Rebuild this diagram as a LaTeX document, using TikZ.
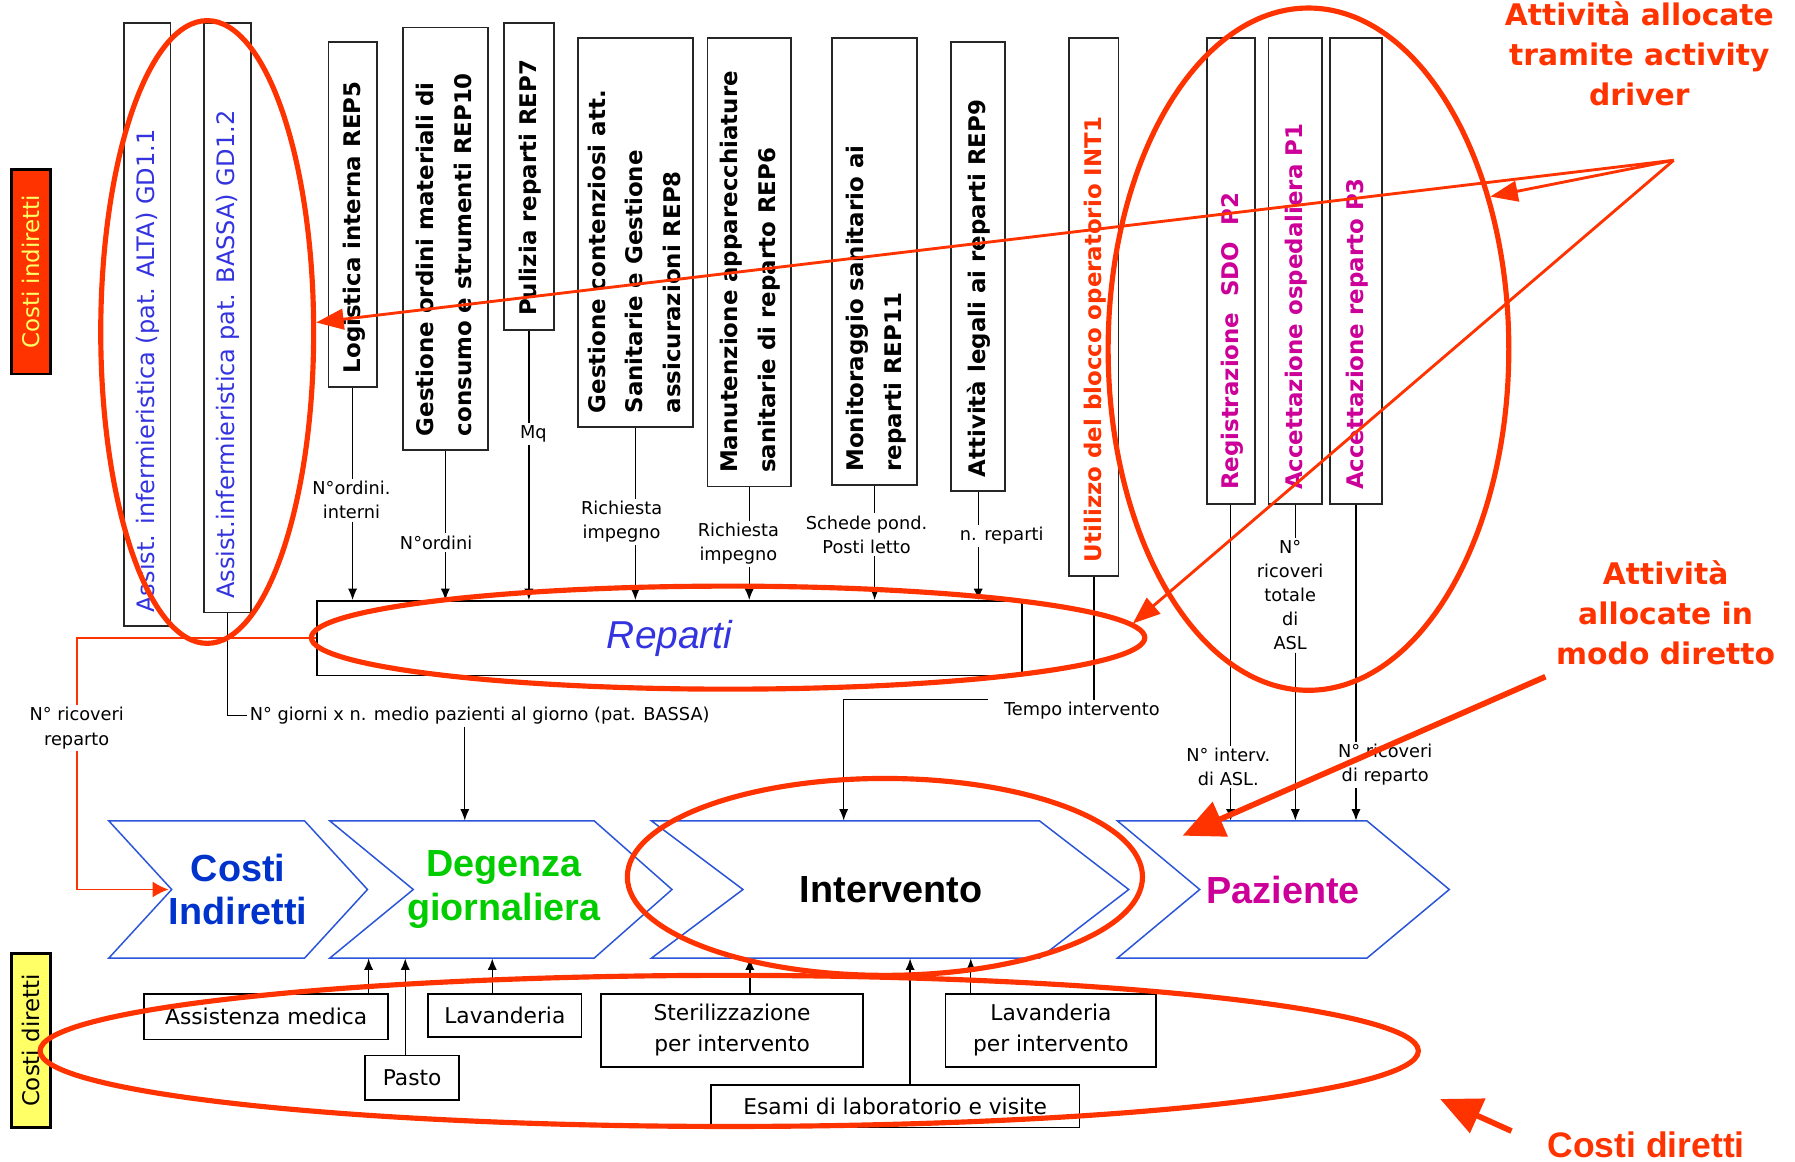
\documentclass[tikz,border=0pt]{standalone}
\usepackage{fontspec}
\usepackage{graphicx}
\usepackage{tikz}
\usetikzlibrary{arrows.meta,shapes.geometric}
\setmainfont{DejaVu Sans}
\newfontfamily\libsans{Liberation Sans}
\definecolor{rosso}{HTML}{FF3300}
\definecolor{blu}{HTML}{0033CC}
\definecolor{bluchiaro}{HTML}{3333E0}
\definecolor{bordo}{HTML}{2A55D8}
\definecolor{verde}{HTML}{00CC00}
\definecolor{viola}{HTML}{CC0099}
\definecolor{giallo}{HTML}{FFFF66}

\newcommand\vtesto[2]{\rotatebox{90}{\makebox[#1pt][l]{\begin{tabular}{@{}l@{}}#2\end{tabular}}}}

\tikzset{
  tag/.style={draw=black, line width=2pt, minimum width=34pt, inner sep=0pt, font=\fontsize{20}{24}\selectfont},
  vbox/.style={draw=black!85, line width=1.6pt, inner sep=0pt, font=\fontsize{20}{33}\selectfont\bfseries},
  lab/.style={font=\fontsize{15.5}{21}\selectfont, align=center, inner sep=2pt},
  conn/.style={line width=1.2pt},
  arr/.style={line width=1.2pt, -{Latex[length=10pt,width=8pt]}},
  chev/.style={draw=bordo, line width=1.3pt},
  chevtxt/.style={minimum height=120pt, inner sep=0pt, align=center, font=\libsans\bfseries\fontsize{33}{38}\selectfont},
  costbox/.style={draw, line width=1.5pt, inner sep=0pt, align=center, font=\fontsize{19}{27}\selectfont},
  redel/.style={draw=rosso, line width=4.5pt, ellipse, inner sep=0pt},
  redarr/.style={draw=rosso, line width=2.5pt, -{Triangle[length=24pt,width=18pt]}},
  bigarr/.style={draw=rosso, line width=5pt, -{Triangle[length=36pt,width=32pt]}},
  annot/.style={text=rosso, align=center, font=\fontsize{26}{35}\selectfont\bfseries},
}

\begin{document}
\begin{tikzpicture}[x=1pt,y=-1pt]
  \useasboundingbox (0,0) rectangle (1568,1015);

  \node[tag, fill=rosso, text=giallo, minimum height=179pt] (cind) at (27,237.5) {\rotatebox{90}{Costi indiretti}};
  \node[tag, fill=giallo, minimum height=152pt] (cdir) at (27,909) {\rotatebox{90}{Costi diretti}};

  \node[vbox, minimum width=41pt, minimum height=527pt, text=bluchiaro, font=\fontsize{21}{33}\selectfont] (gd11) at (128.5,283.5) {\vtesto{503}{Assist. infermieristica (pat. ALTA) GD1.1}};
  \node[vbox, minimum width=41pt, minimum height=515pt, text=bluchiaro, font=\fontsize{21}{33}\selectfont] (gd12) at (198.5,277.5) {\vtesto{491}{Assist.infermieristica pat. BASSA) GD1.2}};
  \node[vbox, minimum width=42pt, minimum height=301pt] (rep5) at (308,187.5) {\vtesto{277}{Logistica interna REP5}};
  \node[vbox, minimum width=74pt, minimum height=369pt] (rep10) at (389,208.5) {\vtesto{345}{Gestione ordini materiali di\\consumo e strumenti REP10}};
  \node[vbox, minimum width=44pt, minimum height=268pt] (rep7) at (462,154) {\vtesto{244}{Pulizia reparti REP7}};
  \node[vbox, minimum width=100pt, minimum height=340pt] (rep8) at (555,203) {\vtesto{316}{Gestione contenziosi att.\\Sanitarie e Gestione\\assicurazioni REP8}};
  \node[vbox, minimum width=73pt, minimum height=392pt] (rep6) at (654.5,229) {\vtesto{368}{Manutenzione apparecchiature\\sanitarie di reparto REP6}};
  \node[vbox, minimum width=74pt, minimum height=391pt] (rep11) at (764,228.5) {\vtesto{367}{Monitoraggio sanitario ai\\reparti REP11}};
  \node[vbox, minimum width=47pt, minimum height=392pt] (rep9) at (854.5,233) {\vtesto{368}{Attività legali ai reparti REP9}};
  \node[vbox, minimum width=43pt, minimum height=470pt, text=rosso] (int1) at (955.5,268) {\vtesto{446}{Utilizzo del blocco operatorio INT1}};
  \node[vbox, minimum width=42pt, minimum height=407pt, text=viola] (p2) at (1075,236.5) {\vtesto{383}{Registrazione \ SDO \ P2}};
  \node[vbox, minimum width=47pt, minimum height=407pt, text=viola] (p1) at (1131.5,236.5) {\vtesto{383}{Accettazione ospedaliera P1}};
  \node[vbox, minimum width=45pt, minimum height=407pt, text=viola] (p3) at (1184.5,236.5) {\vtesto{383}{Accettazione reparto P3}};

  \node[draw, line width=1.6pt, minimum width=616pt, minimum height=65pt, text=bluchiaro, font=\libsans\itshape\fontsize{34}{40}\selectfont] (reparti) at (585,557.5) {Reparti};

  \node[lab] (ordint) at (307,437) {N°ordini.\\interni};
  \node[lab] (nord) at (381,474) {N°ordini};
  \node[lab] (mq) at (466,379) {Mq};
  \node[lab] (rich1) at (543,456) {Richiesta\\impegno};
  \node[lab] (rich2) at (645,475) {Richiesta\\impegno};
  \node[lab] (schede) at (757,467) {Schede pond.\\Posti letto};
  \node[lab] (nrep) at (875,468) {n. reparti};
  \node[lab] (tempo) at (945,621) {Tempo intervento};
  \node[lab, anchor=west] (giorni) at (216,625) {N° giorni x n. medio pazienti al giorno (pat. BASSA)};
  \node[lab] (ricov) at (67,636) {N° ricoveri\\reparto};
  \node[lab] (ninterv) at (1073,670) {N° interv.\\di ASL.};
  \node[lab] (ricasl) at (1127,520) {N°\\ricoveri\\totale\\di\\ASL};
  \node[lab] (ricrep) at (1210,668) {N° ricoveri\\di reparto};

  \draw[chev] (95,717) -- (266,717) -- (321,777) -- (266,837) -- (95,837) -- (150,777) -- cycle;
  \draw[chev] (288,717) -- (519,717) -- (587,777) -- (519,837) -- (288,837) -- (361,777) -- cycle;
  \draw[chev] (569,717) -- (908,717) -- (986,777) -- (908,837) -- (569,837) -- (649,777) -- cycle;
  \draw[chev] (976,717) -- (1194,717) -- (1266,777) -- (1194,837) -- (976,837) -- (1048,777) -- cycle;
  \node[chevtxt, minimum width=116pt, text=blu] (costi) at (208,777) {Costi\\Indiretti};
  \node[chevtxt, minimum width=158pt, text=verde] (degenza) at (440,777) {Degenza\\giornaliera};
  \node[chevtxt, minimum width=259pt] (intervento) at (778.5,777) {Intervento};
  \node[chevtxt, minimum width=146pt, text=viola] (paziente) at (1121,777) {Paziente};

  \node[costbox, minimum width=213pt, minimum height=40pt] (assmed) at (232.5,888) {Assistenza medica};
  \node[costbox, minimum width=82pt, minimum height=39pt] (pasto) at (360,941.5) {Pasto};
  \node[costbox, minimum width=134pt, minimum height=38pt] (lavand) at (441,887) {Lavanderia};
  \node[costbox, minimum width=229pt, minimum height=64pt] (steril) at (639.5,900) {Sterilizzazione\\per intervento};
  \node[costbox, minimum width=184pt, minimum height=64pt] (lavint) at (918,900) {Lavanderia\\per intervento};
  \node[costbox, minimum width=322pt, minimum height=37pt] (esami) at (782,966.5) {Esami di laboratorio e visite};

  \draw[conn] (rep5.south) -- (rep5.south |- ordint.north);
  \draw[arr] (ordint.south -| rep5.south) -- (rep5.south |- reparti.north);
  \draw[conn] (rep10.south) -- (rep10.south |- nord.north);
  \draw[arr] (nord.south -| rep10.south) -- (rep10.south |- reparti.north);
  \draw[conn] (rep7.south) -- (rep7.south |- mq.north);
  \draw[arr] (mq.south -| rep7.south) -- (rep7.south |- reparti.north);
  \draw[conn] (rep8.south) -- (rep8.south |- rich1.north);
  \draw[arr] (rich1.south -| rep8.south) -- (rep8.south |- reparti.north);
  \draw[conn] (rep6.south) -- (rep6.south |- rich2.north);
  \draw[arr] (rich2.south -| rep6.south) -- (rep6.south |- reparti.north);
  \draw[conn] (rep11.south) -- (rep11.south |- schede.north);
  \draw[arr] (schede.south -| rep11.south) -- (rep11.south |- reparti.north);
  \draw[conn] (rep9.south) -- (rep9.south |- nrep.north);
  \draw[arr] (nrep.south -| rep9.south) -- (rep9.south |- reparti.north);

  \draw[conn] (gd12.south) |- (giorni.west);
  \draw[arr] ([xshift=190pt]giorni.south west) -- ([xshift=190pt]giorni.south west |- degenza.north);
  \draw[conn] (int1.south) -- (int1.south |- tempo.north);
  \draw[arr] ([xshift=-12pt]tempo.north west) -| ([xshift=-41.5pt]intervento.north);

  \draw[conn] (p2.south) -- (p2.south |- ninterv.north);
  \draw[arr] (ninterv.south -| p2.south) -- (p2.south |- paziente.north);
  \draw[conn] (p1.south) -- (p1.south |- ricasl.north);
  \draw[arr] (ricasl.south -| p1.south) -- (p1.south |- paziente.north);
  \draw[conn] (p3.south) -- (p3.south |- ricrep.north);
  \draw[arr] (ricrep.south -| p3.south) -- (p3.south |- paziente.north);

  \draw[rosso, line width=1.5pt] (reparti.west) -| (ricov.north);
  \draw[rosso, line width=1.5pt, -{Latex[length=14pt,width=14pt]}] (ricov.south) |- (costi.west);

  \draw[arr] ([xshift=89.5pt]assmed.north) -- ([xshift=89.5pt]assmed.north |- degenza.south);
  \draw[arr] ([xshift=-6pt]pasto.north) -- ([xshift=-6pt]pasto.north |- degenza.south);
  \draw[arr] ([xshift=-11pt]lavand.north) -- ([xshift=-11pt]lavand.north |- degenza.south);
  \draw[arr] ([xshift=15.5pt]steril.north) -- ([xshift=15.5pt]steril.north |- intervento.south);
  \draw[arr] ([xshift=13pt]esami.north) -- ([xshift=13pt]esami.north |- intervento.south);
  \draw[arr] ([xshift=-70pt]lavint.north) -- ([xshift=-70pt]lavint.north |- intervento.south);

  \node[redel, minimum width=186pt, minimum height=544pt] (ellA) at (181,290) {};
  \node[redel, minimum width=728pt, minimum height=90pt] (ellB) at (636,557) {};
  \node[redel, minimum width=350pt, minimum height=596pt] (ellC) at (1143,305) {};
  \node[redel, minimum width=450pt, minimum height=172pt] (ellD) at (773,766) {};
  \node[redel, minimum width=1204pt, minimum height=132pt] (ellE) at (637,918) {};

  \node[annot] (ann1) at (1432,47) {Attività allocate\\tramite activity\\driver};
  \node[annot] (ann2) at (1455,535) {Attività\\allocate in\\modo diretto};
  \node[text=rosso, font=\libsans\bfseries\fontsize{31}{36}\selectfont] (ann3) at (1438,1000) {Costi diretti};

  \coordinate (src) at (1462,140);
  \coordinate (pazin) at (1033,730);
  \coordinate (cdtip) at (1258,960);
  \draw[redarr] (src) -- (ellA.5);
  \draw[redarr] (src) -- (ellC.40);
  \draw[redarr] (src) -- (ellB.2);
  \draw[bigarr] ([xshift=-105pt,yshift=-7pt]ann2.south) -- (pazin);
  \draw[bigarr] ([xshift=-28pt,yshift=12pt]ann3.west) -- (cdtip);
\end{tikzpicture}
\end{document}
